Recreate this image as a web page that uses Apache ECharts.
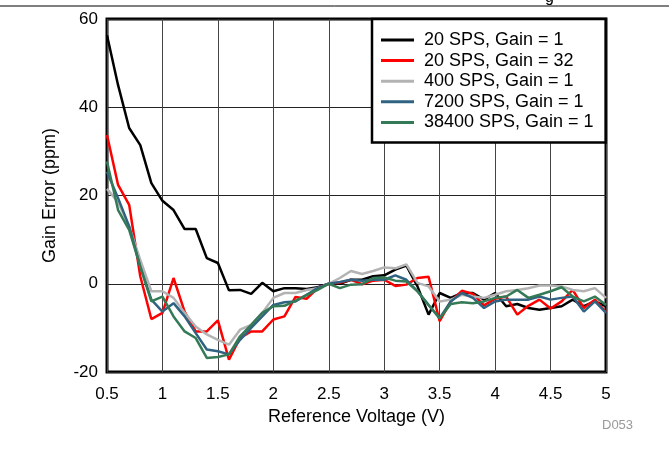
<!DOCTYPE html>
<html>
<head>
<meta charset="utf-8">
<script src="https://cdn.jsdelivr.net/npm/echarts@6/dist/echarts.min.js"></script>
<style>
html,body{margin:0;padding:0;background:#fff;}
#chart{width:669px;height:466px;}
</style>
</head>
<body>
<div id="chart"></div>
<script>
const voltages = [0.5,0.6,0.7,0.8,0.9,1.0,1.1,1.2,1.3,1.4,1.5,1.6,1.7,1.8,1.9,2.0,2.1,2.2,2.3,2.4,2.5,2.6,2.7,2.8,2.9,3.0,3.1,3.2,3.3,3.4,3.5,3.6,3.7,3.8,3.9,4.0,4.1,4.2,4.3,4.4,4.5,4.6,4.7,4.8,4.9,5.0];

const sps20g1 = [56.3,45,35.3,31.4,22.8,18.8,16.7,12.4,12.4,5.8,4.7,-1.5,-1.4,-2.3,0.2,-1.7,-1,-1,-1.2,-0.8,0,0,0.9,0.9,1.7,1.9,3.2,4.1,-0.6,-7,-2.1,-3.2,-2.1,-2.1,-3.6,-2.1,-5.1,-4.6,-5.5,-5.9,-5.5,-5.1,-3.6,-5.1,-4,-5.1];
const sps20g32 = [33.7,22.4,17.9,1.7,-8,-6.6,1.3,-6.3,-10.8,-10.8,-8.3,-17.2,-12.3,-10.8,-10.8,-8.1,-7.4,-3,-3.4,-1,0,0.2,0.9,-0.1,0.7,0.9,-0.5,-0.2,1.3,1.6,-8.5,-4,-1.6,-2.3,-4.9,-3.4,-2.9,-7,-5,-3.6,-5.6,-4,-1.4,-5.5,-3.6,-6.4];
const sps400g1 = [21.5,18.5,13,5.4,-1.7,-1.7,-3.2,-6.6,-9.7,-11.5,-12.7,-13.8,-10.4,-9.3,-6.6,-3.2,-2.1,-2.1,-1.4,-1,0,1.3,2.9,2.2,2.9,3.7,3.5,4.4,0.2,-0.6,-4,-3.6,-2.5,-2.9,-3.2,-2.5,-1.7,-1.4,-1,-0.4,-0.4,-0.6,-1.4,-1.7,-1,-3.2];
const sps7200g1 = [25.4,19.4,13,3.9,-3.6,-6.3,-4.4,-7.4,-11.2,-14.9,-15.3,-16,-12.7,-10,-7.4,-4.8,-4.2,-4,-2.5,-1,0,0.4,0.9,0.7,0.9,0.9,1.9,0.9,-1.7,-4.8,-7.8,-4,-2.1,-3.2,-5.5,-4,-3.6,-3.6,-3.6,-2.9,-3.6,-3.2,-2.9,-6.3,-4,-6.6];
const sps38400g1 = [27.7,16.7,12.2,3.9,-4,-2.9,-7.4,-10.8,-12.3,-16.8,-16.6,-16,-11.9,-9.3,-6.6,-5.1,-5,-3.8,-2.6,-1.4,0,-1,-0.2,-0.1,1.3,1.4,0.7,0.5,-1.7,-4.8,-7.8,-4.6,-4.2,-4.4,-4,-3.2,-2.9,-1.4,-3.2,-2.5,-1.7,-0.8,-2.9,-4,-2.9,-4.8];

const seriesNames = ['20 SPS, Gain = 1','20 SPS, Gain = 32','400 SPS, Gain = 1','7200 SPS, Gain = 1','38400 SPS, Gain = 1'];
const seriesValues = [sps20g1, sps20g32, sps400g1, sps7200g1, sps38400g1];
const seriesColors = ['#000000','#ff0000','#b3b3b3','#2f6381','#357a57'];

const yTicks = [-20, 0, 20, 40, 60];
const xTicks = [0.5, 1, 1.5, 2, 2.5, 3, 3.5, 4, 4.5, 5];

const FONT = "'Liberation Sans', Arial, sans-serif";

const chart = echarts.init(document.getElementById('chart'), null, {renderer: 'canvas'});
chart.setOption({
  backgroundColor: '#fff',
  animation: false,
  grid: {left: 107, right: 63, top: 19, bottom: 94, show: true, borderColor: '#000', borderWidth: 3, backgroundColor: 'transparent'},
  xAxis: {
    type: 'value', min: xTicks[0], max: xTicks[xTicks.length-1], interval: 0.5,
    name: 'Reference Voltage (V)', nameLocation: 'middle', nameGap: 30,
    nameTextStyle: {fontFamily: FONT, fontSize: 18, color: '#000'},
    axisLine: {show: false}, axisTick: {show: false},
    axisLabel: {fontFamily: FONT, fontSize: 17, color: '#000', margin: 14},
    splitLine: {show: true, lineStyle: {color: '#444', width: 1}}
  },
  yAxis: {
    type: 'value', min: yTicks[0], max: yTicks[yTicks.length-1], interval: 20,
    name: 'Gain Error (ppm)', nameLocation: 'middle', nameGap: 48,
    nameTextStyle: {fontFamily: FONT, fontSize: 18, color: '#000'},
    axisLine: {show: false}, axisTick: {show: false},
    axisLabel: {fontFamily: FONT, fontSize: 17, color: '#000', margin: 9},
    splitLine: {show: true, lineStyle: {color: '#222', width: 1}}
  },
  legend: {
    orient: 'vertical', left: 372, top: 19,
    padding: [11, 12, 10, 9],
    borderColor: '#000', borderWidth: 2.5, backgroundColor: '#fff',
    itemWidth: 33, itemHeight: 14, itemGap: 0.6,
    textStyle: {fontFamily: FONT, fontSize: 18, color: '#000', lineHeight: 20, padding: [0,0,0,5]},
    data: seriesNames.map(n => ({name: n, icon: 'path://M0,6 L33,6 L33,9 L0,9 Z'}))
  },
  series: seriesNames.map((n, i) => ({
    name: n, type: 'line', symbol: 'none', showSymbol: false,
    data: voltages.map((v, j) => [v, seriesValues[i][j]]),
    lineStyle: {color: seriesColors[i], width: 2.5},
    itemStyle: {color: seriesColors[i]},
    z: 2 + i
  })),
  graphic: [
    {type: 'line', shape: {x1: 0, y1: 6, x2: 669, y2: 6}, style: {stroke: '#000', lineWidth: 1}},
    {type: 'text', x: 545, y: -10, style: {text: 'g', fontFamily: FONT, fontSize: 16, fill: '#000', verticalAlign: 'top'}},
    {type: 'text', x: 602, y: 419, style: {text: 'D053', fontFamily: FONT, fontSize: 13, fill: '#999'}}
  ]
});
</script>
</body>
</html>
